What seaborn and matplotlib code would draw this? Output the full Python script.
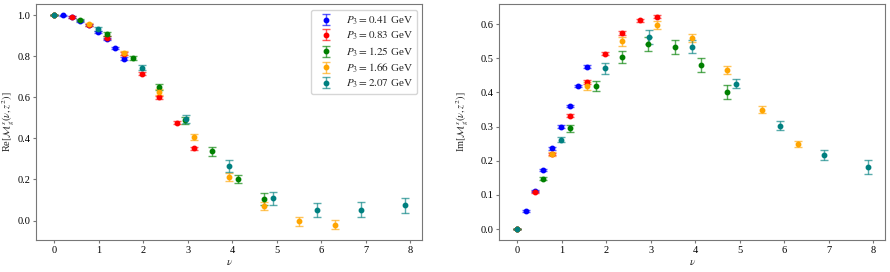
import numpy as np
import pandas as pd
import matplotlib
matplotlib.use("Agg")
import matplotlib.pyplot as plt
import seaborn as sns

# momenta and nu values for z = 0..8
p3_labels = ["0.41", "0.83", "1.25", "1.66", "2.07"]
colors = ["blue", "red", "green", "orange", "teal"]
nu_step = [0.197, 0.394, 0.590, 0.787, 0.984]

# Re part, z = 0..8
re_blue = [1.0, 0.998, 0.990, 0.972, 0.950, 0.919, 0.883, 0.838, 0.788]
re_red = [1.0, 0.990, 0.953, 0.890, 0.811, 0.714, 0.600, 0.477, 0.351]
re_green = [1.0, 0.976, 0.908, 0.791, 0.649, 0.488, 0.336, 0.204, 0.105]
re_orange = [1.0, 0.955, 0.817, 0.625, 0.406, 0.210, 0.070, -0.003, -0.020]
re_teal = [1.0, 0.932, 0.744, 0.494, 0.264, 0.108, 0.050, 0.053, 0.074]

re_err_blue = [0, 0.003, 0.003, 0.004, 0.004, 0.005, 0.005, 0.005, 0.006]
re_err_red = [0, 0.004, 0.005, 0.006, 0.007, 0.007, 0.008, 0.008, 0.009]
re_err_green = [0, 0.006, 0.008, 0.008, 0.014, 0.018, 0.022, 0.020, 0.028]
re_err_orange = [0, 0.008, 0.010, 0.016, 0.016, 0.020, 0.020, 0.022, 0.022]
re_err_teal = [0, 0.008, 0.012, 0.020, 0.030, 0.030, 0.035, 0.035, 0.035]

# Im part, z = 0..8
im_blue = [0.0, 0.053, 0.113, 0.174, 0.236, 0.300, 0.360, 0.419, 0.475]
im_red = [0.0, 0.108, 0.220, 0.332, 0.431, 0.513, 0.574, 0.611, 0.622]
im_green = [0.0, 0.148, 0.295, 0.418, 0.504, 0.542, 0.532, 0.481, 0.402]
im_orange = [0.0, 0.220, 0.419, 0.549, 0.597, 0.559, 0.466, 0.350, 0.249]
im_teal = [0.0, 0.262, 0.470, 0.563, 0.534, 0.426, 0.303, 0.217, 0.182]

im_err_blue = [0, 0.003, 0.003, 0.003, 0.004, 0.004, 0.004, 0.004, 0.004]
im_err_red = [0, 0.003, 0.004, 0.004, 0.005, 0.005, 0.006, 0.005, 0.005]
im_err_green = [0, 0.004, 0.010, 0.015, 0.018, 0.020, 0.020, 0.020, 0.020]
im_err_orange = [0, 0.005, 0.012, 0.013, 0.012, 0.013, 0.012, 0.010, 0.010]
im_err_teal = [0, 0.008, 0.016, 0.020, 0.020, 0.014, 0.014, 0.016, 0.020]

re_vals = [re_blue, re_red, re_green, re_orange, re_teal]
re_errs = [re_err_blue, re_err_red, re_err_green, re_err_orange, re_err_teal]
im_vals = [im_blue, im_red, im_green, im_orange, im_teal]
im_errs = [im_err_blue, im_err_red, im_err_green, im_err_orange, im_err_teal]

rows = []
for i, p in enumerate(p3_labels):
    for z in range(9):
        rows.append({"P3": p, "nu": nu_step[i] * z,
                     "re": re_vals[i][z], "re_err": re_errs[i][z],
                     "im": im_vals[i][z], "im_err": im_errs[i][z]})
df = pd.DataFrame(rows)

sns.set_style("ticks")
plt.rcParams["font.family"] = ["Liberation Serif", "DejaVu Serif"]
plt.rcParams["mathtext.fontset"] = "stix"
plt.rcParams["font.size"] = 8

fig, axes = plt.subplots(1, 2, figsize=(8.9, 2.72), dpi=100)
fig.subplots_adjust(left=0.041, right=0.9947, bottom=0.118, top=0.985, wspace=0.2)

for ax, col, lab in zip(axes, ["re", "im"],
                        [r"Re$[\mathcal{M}_g^s(\nu,z^2)]$", r"Im$[\mathcal{M}_g^s(\nu,z^2)]$"]):
    for p, c in zip(p3_labels, colors):
        d = df[df["P3"] == p]
        cont = ax.errorbar(d["nu"], d[col], yerr=d[col + "_err"], fmt="o", color=c,
                           ms=3.2, capsize=3, elinewidth=1, capthick=1,
                           label=r"$P_3 = %s$ GeV" % p)
        for art in cont[1] + cont[2]:
            art.set_alpha(0.65)
    ax.set_xlabel(r"$\nu$", labelpad=1.5)
    ax.set_ylabel(lab, fontsize=7.5)
    for s in ax.spines.values():
        s.set_color("#777777")
    ax.tick_params(colors="#777777", labelcolor="black", labelsize=7.5, length=2.5, pad=2)

axes[0].yaxis.set_label_coords(-0.05, 0.5)
axes[1].yaxis.set_label_coords(-0.074, 0.5)
axes[0].set_yticks([0.0, 0.2, 0.4, 0.6, 0.8, 1.0])
axes[1].set_yticks([0.0, 0.1, 0.2, 0.3, 0.4, 0.5, 0.6])
axes[0].legend(loc="upper right", fontsize=8, handletextpad=0.8,
               labelspacing=0.25, borderpad=0.35)

fig.savefig("out.png", dpi=100)
